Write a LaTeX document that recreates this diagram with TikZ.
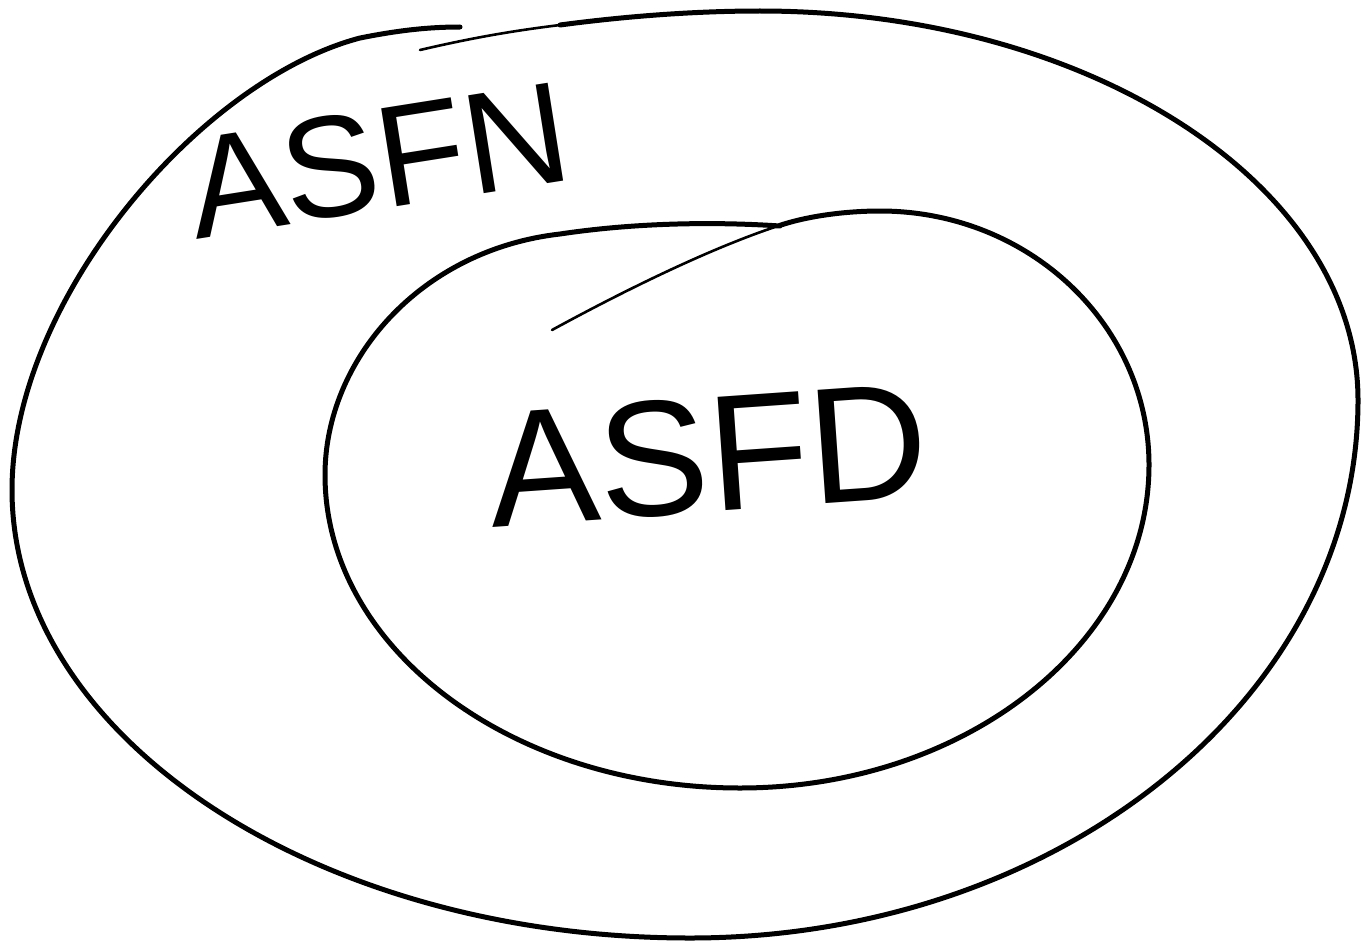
\documentclass[tikz,border=0pt]{standalone}
\usepackage{fontspec}
\setmainfont{Liberation Sans}
\begin{document}
\begin{tikzpicture}[x=1pt,y=-1pt,
  pen/.style={line width=5pt,line cap=round,line join=round,black},
  thinpen/.style={line width=2.6pt,line cap=round,black},
  label/.style={inner sep=0pt,font=\fontsize{#1}{#1}\selectfont}]
\useasboundingbox (0,0) rectangle (1367,942);
% outer loop, drawn as one open stroke that overlaps at the top left
\draw[thinpen] (420,50) .. controls (480,36) and (520,30) .. (560,25);
\draw[pen] (560,25)
  .. controls (620,17) and (690,11) .. (760,11)
  .. controls (1090,11) and (1358,185) .. (1358,400)
  .. controls (1358,697) and (1059,938) .. (690,938)
  .. controls (316,938) and (12,737) .. (12,490)
  .. controls (12,300) and (200,80) .. (360,38)
  .. controls (400,30) and (430,27) .. (460,27);
% inner loop, starting with a light lead-in stroke
\draw[thinpen] (552,330) .. controls (640,282) and (720,245) .. (778,226);
\draw[pen] (778,226)
  .. controls (810,215) and (850,211) .. (880,211)
  .. controls (1029,211) and (1149,325) .. (1149,465)
  .. controls (1149,643) and (966,788) .. (740,788)
  .. controls (511,788) and (325,648) .. (325,475)
  .. controls (325,360) and (420,250) .. (560,234)
  .. controls (640,222) and (720,222) .. (780,226);
% labels
\node[label=144,rotate=9] (asfn) at (378,160) {ASFN};
\node[label=165,rotate=4] (asfd) at (708,455) {ASFD};
\end{tikzpicture}
\end{document}
